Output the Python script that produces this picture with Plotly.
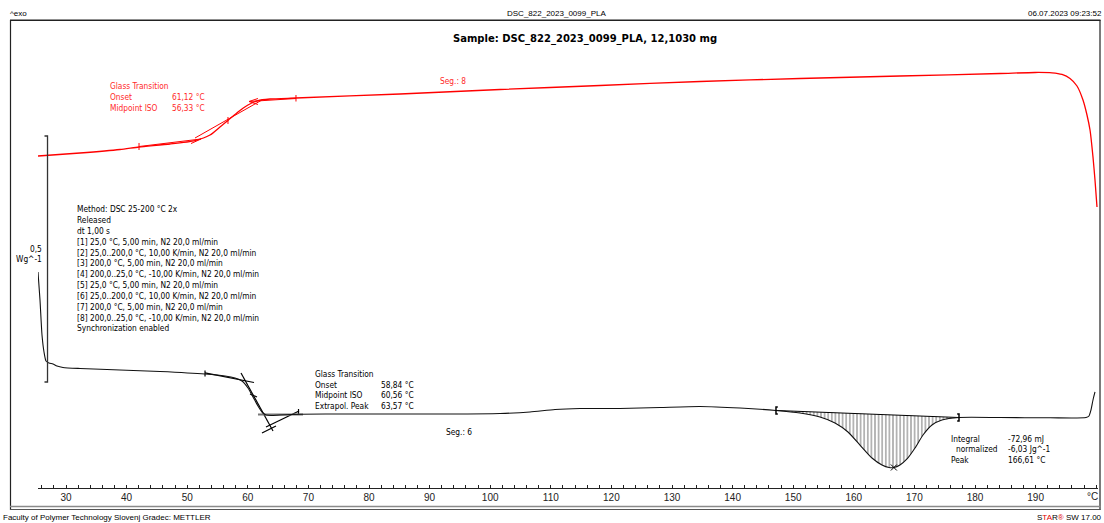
import plotly.graph_objects as go

W, H = 1104, 523

# ---------------- data (temperature in °C, heat flow in W/g, curves offset as displayed) ----------------
seg6_temp = [25.38, 25.71, 26.04, 26.37, 26.70, 27.19, 27.85, 28.51, 29.50, 32.31, 38.91, 45.51,
             52.94, 56.24, 57.89, 59.04, 60.03, 60.86, 61.68, 62.34, 63.00, 63.83, 65.31, 68.61,
             76.86, 85.12, 93.37, 101.62, 106.57, 110.69, 114.82, 121.42, 128.02, 134.62, 141.22,
             147.16, 151.12, 154.42, 156.90, 159.04, 161.02, 163.00, 164.65, 165.81, 166.61, 167.62,
             168.78, 170.10, 171.42, 172.90, 174.55, 177.36, 184.13, 192.38, 198.32, 198.81, 199.14,
             199.47, 199.80]
seg6_hf = [0.5102, 0.4533, 0.3821, 0.3476, 0.3293, 0.3252, 0.3232, 0.3191, 0.3161, 0.3140, 0.3110, 0.3079,
           0.3028, 0.2988, 0.2947, 0.2886, 0.2744, 0.2561, 0.2378, 0.2256, 0.2195, 0.2185, 0.2195, 0.2211,
           0.2215, 0.2215, 0.2215, 0.2226, 0.2256, 0.2307, 0.2327, 0.2327, 0.2348, 0.2368, 0.2337,
           0.2287, 0.2236, 0.2154, 0.2033, 0.1850, 0.1585, 0.1321, 0.1179, 0.1128, 0.1128, 0.1179,
           0.1301, 0.1524, 0.1789, 0.1992, 0.2093, 0.2144, 0.2144, 0.2138, 0.2144, 0.2175, 0.2297,
           0.2500, 0.2663]

seg8_temp = [25.38, 32.31, 38.91, 42.05, 47.16, 51.29, 53.76, 55.41, 56.73, 58.38, 60.03, 61.68, 63.66,
             67.95, 85.12, 101.62, 118.12, 134.62, 151.12, 167.62, 184.13, 189.90, 192.71, 194.36,
             195.68, 196.83, 197.82, 198.48, 198.98, 199.47, 199.80, 200.13]
seg8_hf = [0.7459, 0.7520, 0.7591, 0.7642, 0.7703, 0.7774, 0.7886, 0.8049, 0.8181, 0.8354, 0.8496, 0.8587,
           0.8618, 0.8638, 0.8720, 0.8811, 0.8892, 0.8974, 0.9035, 0.9085, 0.9136, 0.9157, 0.9150, 0.9116,
           0.9035, 0.8882, 0.8598, 0.8293, 0.7988, 0.7439, 0.6972, 0.6423]

# integration limits and peak (Seg. 6 melting)
integ_temp = [147.16, 177.36]
integ_hf = [0.2287, 0.2144]
peak_temp = [166.61]
peak_hf = [0.1128]

# evaluation construction lines (temperature pairs, heat-flow pairs)
seg8_eval_temp = [[42.05, 52.28], [50.63, 52.28], [51.29, 62.34], [60.20, 67.95], [61.68, 60.20, 61.68],
                  [42.05, 42.05], [67.95, 67.95], [56.73, 56.73]]
seg8_eval_hf = [[0.7652, 0.7805], [0.7713, 0.7805], [0.7825, 0.8598], [0.8567, 0.8628], [0.8628, 0.8567, 0.8506],
                [0.7724, 0.7581], [0.8699, 0.8567], [0.8252, 0.8110]]
seg6_eval_temp = [[52.94, 61.02], [58.88, 64.16], [63.00, 68.45], [52.94, 52.94], [68.37, 68.37],
                  [60.36, 61.52], [62.34, 64.65]]
seg6_eval_hf = [[0.3053, 0.2856], [0.3049, 0.1870], [0.1951, 0.2276], [0.3100, 0.2978], [0.2317, 0.2195],
                [0.2622, 0.2561], [0.1829, 0.1972]]
seg6_post_base_temp = [61.68, 69.11]
seg6_post_base_hf = [0.2205, 0.2205]

# scale bar: 0.5 W/g
scale_temp = 26.95
scale_low = 0.2866
scale_len = 0.5

x_ticks = list(range(30, 200, 10))

# ---------------- figure ----------------
def join(tt, vv):
    xs, ys = [], []
    for t, v in zip(tt, vv):
        xs += list(t) + [None]
        ys += list(v) + [None]
    return xs, ys

fig = go.Figure()

# hatched integral area
fig.add_trace(go.Scatter(x=integ_temp, y=integ_hf, mode="lines",
                         line=dict(color="#000", width=1), hoverinfo="skip"))
seg_t = [t for t in seg6_temp if integ_temp[0] <= t <= integ_temp[1]]
seg_v = [v for t, v in zip(seg6_temp, seg6_hf) if integ_temp[0] <= t <= integ_temp[1]]
fig.add_trace(go.Scatter(x=seg_t, y=seg_v, mode="lines", line=dict(width=0, color="#000"),
                         fill="tonexty", fillcolor="rgba(0,0,0,0)",
                         fillpattern=dict(shape="|", size=3.6, solidity=0.3, fgcolor="#000",
                                          bgcolor="rgba(0,0,0,0)"),
                         hoverinfo="skip"))

# construction lines
ex, ey = join(seg6_eval_temp, seg6_eval_hf)
fig.add_trace(go.Scatter(x=ex, y=ey, mode="lines", line=dict(color="#000", width=1.2)))
fig.add_trace(go.Scatter(x=seg6_post_base_temp, y=seg6_post_base_hf, mode="lines",
                         line=dict(color="#777", width=2)))
rx, ry = join(seg8_eval_temp, seg8_eval_hf)
fig.add_trace(go.Scatter(x=rx, y=ry, mode="lines", line=dict(color="#ff0000", width=1)))

# curves
fig.add_trace(go.Scatter(x=seg6_temp, y=seg6_hf, mode="lines", line=dict(color="#111", width=1.1,
                         shape="spline", smoothing=0.6)))
fig.add_trace(go.Scatter(x=seg8_temp, y=seg8_hf, mode="lines", line=dict(color="#ff0000", width=1.3,
                         shape="spline", smoothing=0.6)))

# integration limit brackets
bx = [integ_temp[0] + 0.3, integ_temp[0], integ_temp[0], integ_temp[0] + 0.3, None,
      integ_temp[1] - 0.3, integ_temp[1], integ_temp[1], integ_temp[1] - 0.3]
by = [integ_hf[0] + 0.007, integ_hf[0] + 0.007, integ_hf[0] - 0.007, integ_hf[0] - 0.007, None,
      integ_hf[1] + 0.007, integ_hf[1] + 0.007, integ_hf[1] - 0.007, integ_hf[1] - 0.007]
fig.add_trace(go.Scatter(x=bx, y=by, mode="lines", line=dict(color="#000", width=1.5)))

# peak marker
fig.add_trace(go.Scatter(x=peak_temp, y=peak_hf, mode="markers",
                         marker=dict(symbol="x-thin", size=6, line=dict(width=1, color="#000"))))

# scale bar
fig.add_trace(go.Scatter(x=[scale_temp - 0.5, scale_temp, scale_temp, scale_temp - 0.5],
                         y=[scale_low + scale_len, scale_low + scale_len, scale_low, scale_low],
                         mode="lines", line=dict(color="#333", width=1.3)))

# ---------------- layout ----------------
def fx(px):
    return px / W

def fy(py):
    return 1 - py / H

TXT = "DejaVu Sans Condensed, DejaVu Sans, sans-serif"
ARIAL = "Liberation Sans, Arial, sans-serif"
NARROW = "Liberation Sans Narrow, Liberation Sans, Arial, sans-serif"

ann = []

def txt(x, y, s, color="#000", size=8.3, family=TXT, xanchor="left"):
    ann.append(dict(x=fx(x), y=fy(y), xref="paper", yref="paper", text=s, showarrow=False,
                    xanchor=xanchor, yanchor="middle", borderpad=0,
                    font=dict(family=family, size=size, color=color)))

# header / footer
txt(9, 13, "^exo", size=8, family=ARIAL)
txt(556, 13, "DSC_822_2023_0099_PLA", size=8, family=ARIAL, xanchor="center")
txt(1103, 13, "06.07.2023 09:23:52", size=8, family=ARIAL, xanchor="right")
txt(585, 39, "<b>Sample: DSC_822_2023_0099_PLA, 12,1030 mg</b>", size=10,
    family="DejaVu Sans, sans-serif", xanchor="center")
txt(2, 517, "Faculty of Polymer Technology Slovenj Gradec: METTLER", size=8, family=ARIAL)
txt(1103, 517, "S<span style='color:#e00000'>TA</span>R<span style='color:#e00000'>®</span> SW 17.00",
    size=8, family=ARIAL, xanchor="right")

# red evaluation
RED = "#ff2a2a"
txt(109, 86, "Glass Transition", RED)
txt(109, 97, "Onset", RED)
txt(171, 97, "61,12 °C", RED)
txt(109, 108, "Midpoint ISO", RED)
txt(171, 108, "56,33 °C", RED)
txt(439, 81, "Seg.: 8", RED)

# method block
method_lines = [
    "Method: DSC 25-200 °C 2x",
    "Released",
    "dt 1,00 s",
    "[1] 25,0 °C, 5,00 min, N2 20,0 ml/min",
    "[2] 25,0..200,0 °C, 10,00 K/min, N2 20,0 ml/min",
    "[3] 200,0 °C, 5,00 min, N2 20,0 ml/min",
    "[4] 200,0..25,0 °C, -10,00 K/min, N2 20,0 ml/min",
    "[5] 25,0 °C, 5,00 min, N2 20,0 ml/min",
    "[6] 25,0..200,0 °C, 10,00 K/min, N2 20,0 ml/min",
    "[7] 200,0 °C, 5,00 min, N2 20,0 ml/min",
    "[8] 200,0..25,0 °C, -10,00 K/min, N2 20,0 ml/min",
    "Synchronization enabled",
]
for i, s in enumerate(method_lines):
    txt(76, 209.3 + i * 10.82, s)

# scale label
txt(43, 249, "0,5", xanchor="right")
txt(43, 259, "Wg^-1", xanchor="right")

# black Tg evaluation
txt(314, 374, "Glass Transition")
txt(314, 385, "Onset")
txt(380, 385, "58,84 °C")
txt(314, 395, "Midpoint ISO")
txt(380, 395, "60,56 °C")
txt(314, 406, "Extrapol. Peak")
txt(380, 406, "63,57 °C")
txt(445, 432, "Seg.: 6")

# integral
txt(950, 439, "Integral")
txt(1007, 439, "-72,96 mJ")
txt(955, 449, "normalized")
txt(1007, 449, "-6,03 Jg^-1")
txt(950, 460, "Peak")
txt(1007, 460, "166,61 °C")

# unit label on axis
txt(1092, 496, "°C", color="#222", size=10, family=NARROW, xanchor="center")

shapes = []

def hline(y, x0, x1, color="#222", width=1):
    shapes.append(dict(type="line", xref="paper", yref="paper", x0=fx(x0), x1=fx(x1),
                       y0=fy(y), y1=fy(y), line=dict(color=color, width=width)))

def vline(x, y0, y1, color="#222", width=1):
    shapes.append(dict(type="line", xref="paper", yref="paper", x0=fx(x), x1=fx(x),
                       y0=fy(y0), y1=fy(y1), line=dict(color=color, width=width)))

hline(20.3, 10, 1100.5, "#222", 1.5)
vline(10.5, 20, 510, "#222", 1.2)
vline(1100, 20, 510, "#222", 1.2)
hline(506.5, 10, 1100.5, "#8a8a8a", 1.6)
hline(509.5, 10, 1100.5, "#555", 1)

x0_px, x1_px = 38, 1098
t_per_px = 1 / 6.06
t_lo = 30 + (x0_px - 66) * t_per_px
t_hi = 30 + (x1_px - 66) * t_per_px
axis_px = 487.5
v_lo = (H - axis_px) / 492
v_hi = H / 492

fig.update_layout(
    width=W, height=H,
    margin=dict(l=0, r=0, t=0, b=0),
    paper_bgcolor="white", plot_bgcolor="white",
    showlegend=False,
    annotations=ann,
    shapes=shapes,
    xaxis=dict(domain=[x0_px / W, x1_px / W], range=[t_lo, t_hi], showgrid=False, zeroline=False,
               showline=True, linecolor="#222", linewidth=1,
               tickmode="array", tickvals=x_ticks, ticktext=[str(v) for v in x_ticks],
               ticks="inside", ticklen=3, tickwidth=1, tickcolor="#222",
               minor=dict(tickmode="linear", tick0=26, dtick=2, ticks="inside", ticklen=3,
                          tickwidth=1, tickcolor="#222"),
               tickfont=dict(family=NARROW, size=10, color="#222")),
    yaxis=dict(domain=[(H - axis_px) / H, 1], range=[v_lo, v_hi], visible=False),
)

fig.write_html("out.html")
